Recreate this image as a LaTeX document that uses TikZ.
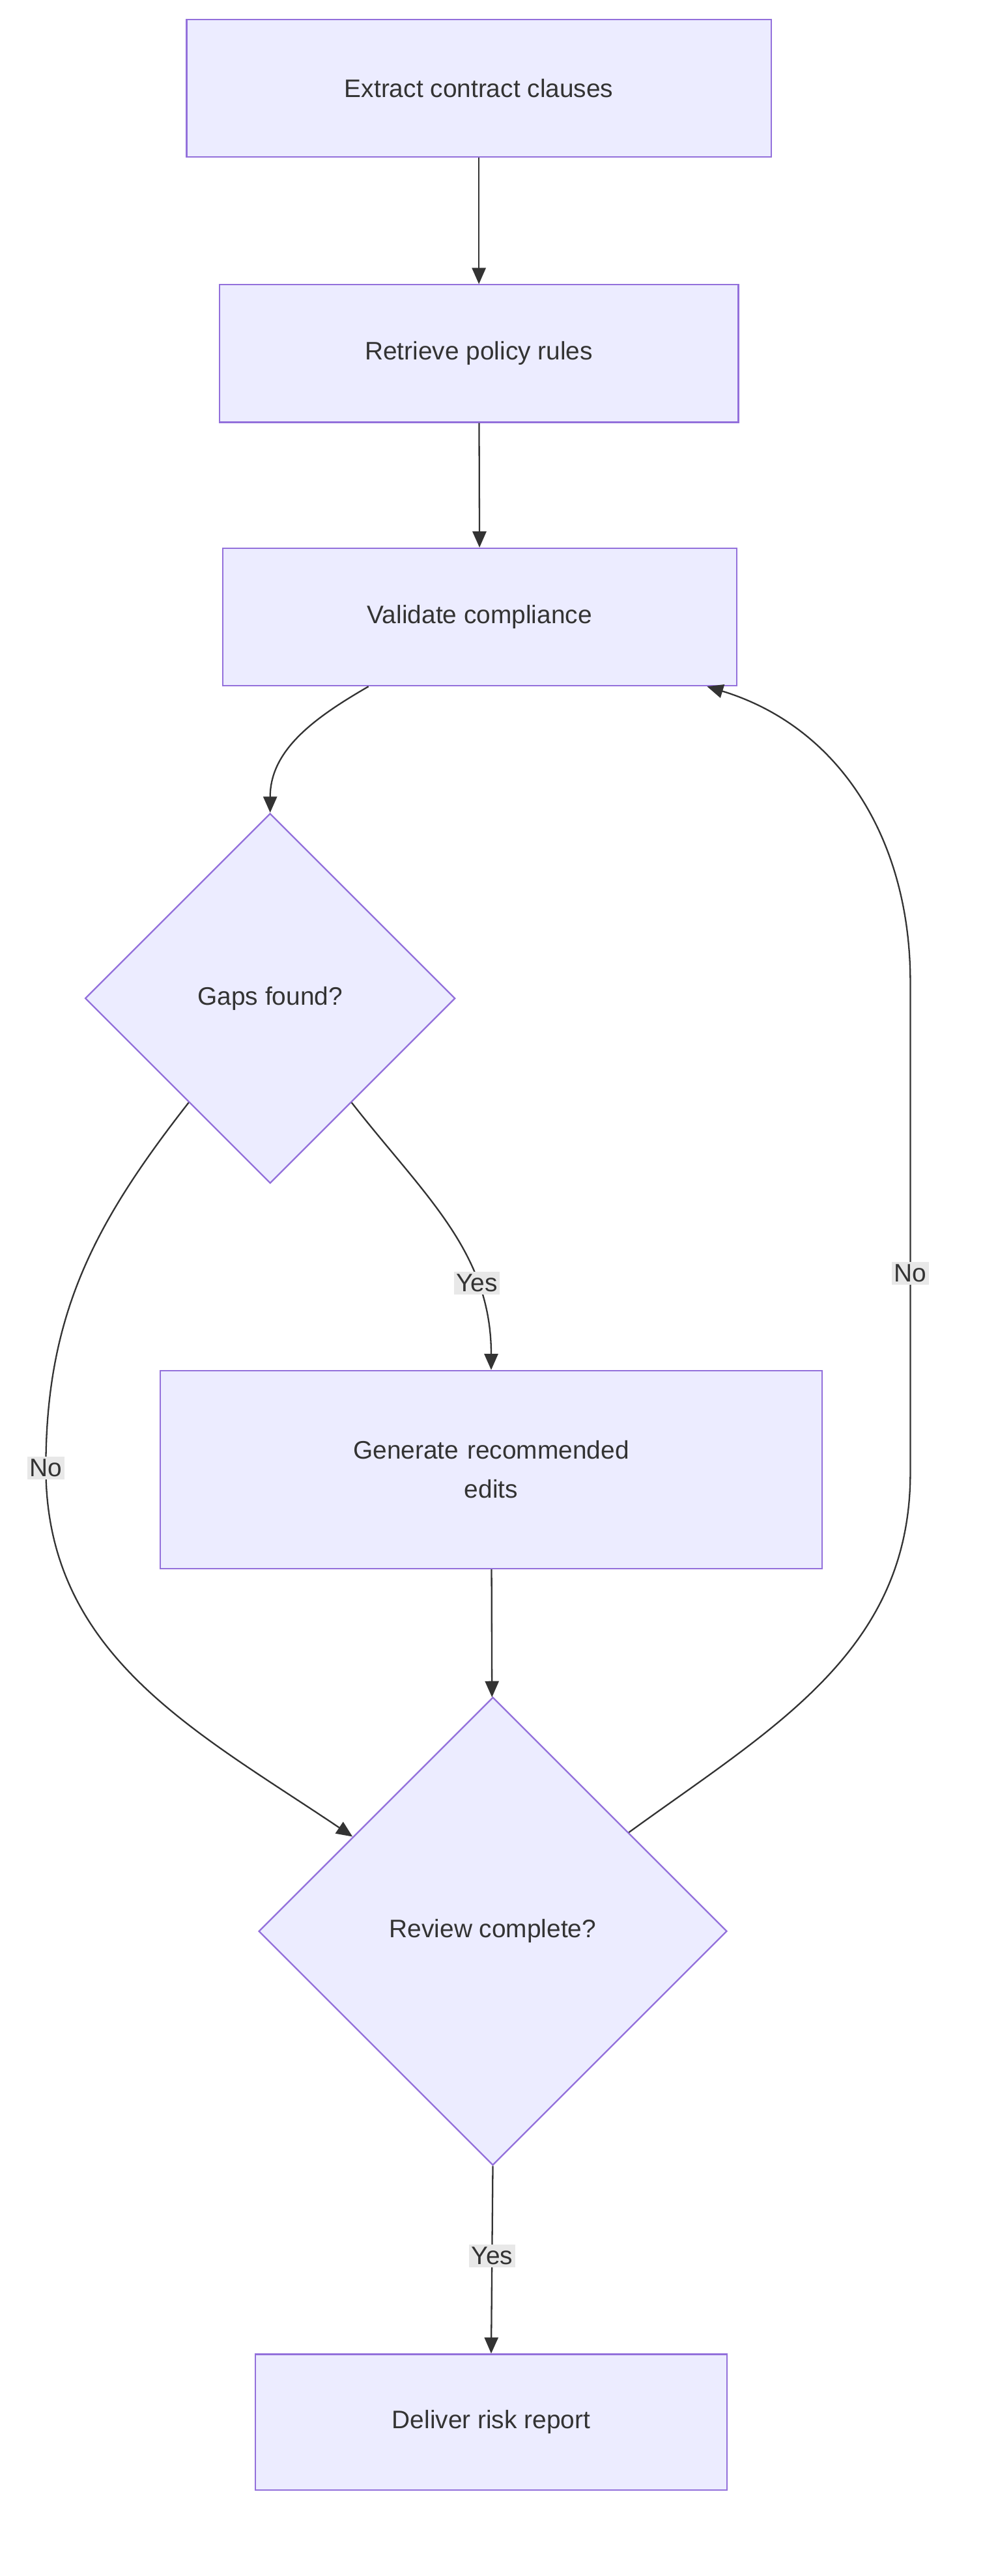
\documentclass[tikz,border=0pt]{standalone}
\usepackage{fontspec}
\setmainfont{Liberation Sans}
\usepackage{tikz}
\usetikzlibrary{shapes.geometric,arrows.meta}
\definecolor{boxfill}{HTML}{ECECFF}
\definecolor{boxline}{HTML}{9370DB}
\definecolor{ink}{HTML}{333333}
\definecolor{lblbg}{HTML}{E8E8E8}
\tikzset{
  task/.style={draw=boxline, fill=boxfill, line width=1.3pt, text=ink, align=center, font=\fontsize{22}{34}\selectfont},
  choice/.style={task, diamond, inner sep=0pt},
  flow/.style={-{Triangle[length=14pt,width=12pt]}, draw=ink, line width=1.3pt},
  lbl/.style={fill=lblbg, text=ink, font=\fontsize{22}{26}\selectfont, inner sep=2pt}
}
\begin{document}
\begin{tikzpicture}[x=0.05cm, y=-0.05cm]
        \useasboundingbox (0,0) rectangle (600,1574);
        \node[task, minimum width=17.85cm, minimum height=4.2cm] at (292.5, 54) (extract) {Extract contract clauses};
        \node[task, minimum width=15.85cm, minimum height=4.2cm] at (292.5, 216) (retrieve) {Retrieve policy rules};
        \node[task, minimum width=15.7cm, minimum height=4.2cm] at (293, 377) (validate) {Validate compliance};
        \node[choice, minimum width=11.3cm, minimum height=11.3cm] at (165, 610) (gaps) {Gaps found?};
        \node[task, minimum width=20.2cm, minimum height=6.05cm, text width=14cm] at (300, 898) (edits) {Generate recommended\\edits};
        \node[choice, minimum width=14.3cm, minimum height=14.3cm] at (301, 1180) (review) {Review complete?};
        \node[task, minimum width=14.4cm, minimum height=4.15cm] at (300, 1480) (deliver) {Deliver risk report};

        \draw[flow] (extract) -- (retrieve);
        \draw[flow] (retrieve) -- (validate);
        \draw[flow] (validate.-148) to[out=210, in=90] (gaps.north);
        \draw[flow] (gaps.-52) to[out=-52, in=90] node[lbl, pos=0.72] {Yes} (edits.north);
        \draw[flow] (gaps.-128) to[out=-128, in=90] (28, 897) node[lbl] {No} to[out=-90, in=146] (review.146);
        \draw[flow] (edits) -- (review);
        \draw[flow] (review.36) to[out=36, in=-90] (556, 900) -- (556, 778) node[lbl] {No} -- (556, 600) to[out=90, in=-17] (validate.-17);
        \draw[flow] (review.south) -- node[lbl, pos=0.48] {Yes} (deliver.north);
    \end{tikzpicture}
\end{document}
